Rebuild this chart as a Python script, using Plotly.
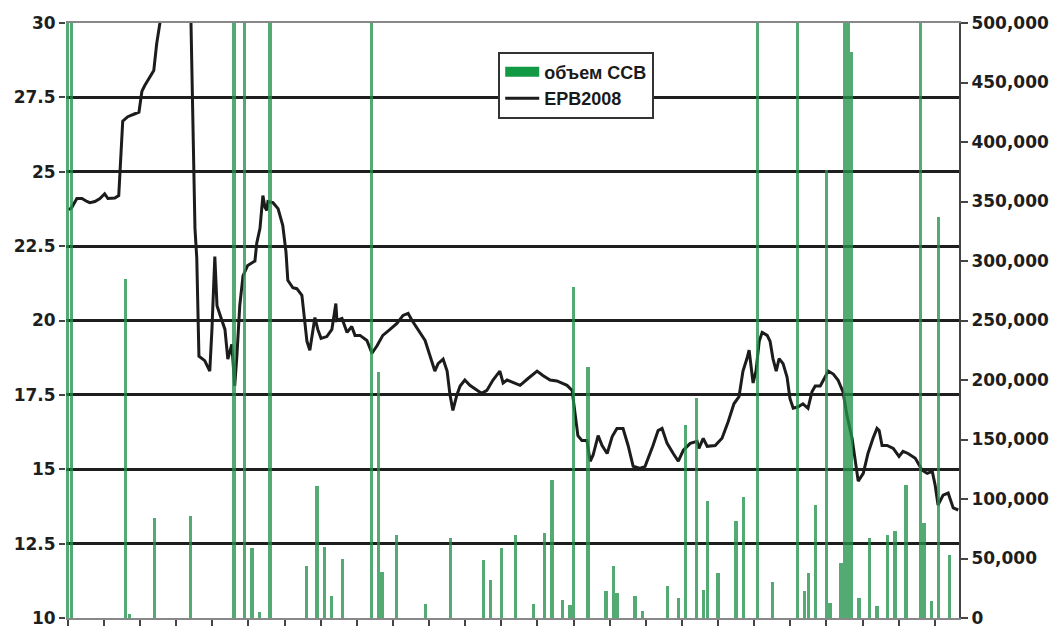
import plotly.graph_objects as go

# ---- data ----
line_days = [0.3, 1.1, 2.5, 3.9, 5.3, 6.1, 7.5, 8.9, 10.2, 11.1, 13.0, 14.1, 15.2, 16.6, 18.6, 19.7,
             20.5, 21.3, 23.3, 23.8, 24.6, 25.5, 26.9, 29.6, 32.4, 34.1, 35.2, 35.7, 36.3, 37.9, 39.3,
             39.9, 40.7, 41.3, 42.1, 43.5, 44.3, 45.4, 46.2, 46.8, 47.6, 48.5, 49.8, 51.8, 52.3, 53.2,
             54.0, 54.6, 55.1, 55.4, 56.8, 58.2, 59.5, 60.4, 60.9, 62.3, 63.4, 64.8, 66.2, 67.0, 68.4,
             69.2, 70.1, 71.7, 73.1, 74.2, 74.5, 75.9, 77.3, 78.6, 79.5, 80.9, 82.8, 84.2, 85.6, 87.2,
             89.2, 91.1, 92.8, 94.2, 95.3, 97.5, 98.9, 100.3, 101.6, 102.5, 103.9, 105.0, 105.8, 106.6,
             107.7, 108.6, 109.9, 111.3, 113.3, 114.6, 116.0, 117.7, 119.6, 120.5, 121.6, 123.8, 125.2,
             127.4, 129.9, 131.5, 133.5, 135.4, 138.2, 139.6, 140.4, 141.2, 142.3, 143.7, 144.6, 145.4,
             146.8, 147.9, 149.3, 150.7, 152.0, 153.7, 155.1, 156.5, 158.4, 159.8, 162.0, 163.4, 164.5,
             165.9, 167.6, 169.0, 170.4, 172.3, 174.2, 174.7, 175.9, 177.0, 179.2, 181.1, 182.8, 184.4,
             185.8, 186.9, 188.0, 188.6, 189.7, 190.5, 191.4, 192.2, 193.6, 194.4, 195.2, 196.1, 196.9,
             198.0, 199.1, 199.9, 200.8, 202.2, 203.5, 204.9, 206.0, 206.9, 208.3, 209.1, 210.5, 211.9,
             213.2, 214.6, 215.7, 217.1, 217.9, 218.8, 220.2, 221.5, 222.9, 224.0, 224.6, 225.4, 226.8,
             228.5, 230.1, 231.2, 232.6, 234.6, 236.5, 237.9, 239.3, 240.1, 240.9, 242.3, 243.7, 245.1,
             246.5]
epb2008 = [23.72, 23.8, 24.1, 24.1, 24.0, 23.96, 24.0, 24.1, 24.26, 24.1, 24.12, 24.2, 26.7, 26.85, 26.95,
           27.0, 27.7, 27.9, 28.3, 28.4, 29.3, 30.0, 30.6, 31.2, 30.8, 30.0, 23.1, 22.1, 18.8, 18.65,
           18.3, 19.7, 22.15, 20.5, 20.2, 19.7, 18.7, 19.2, 17.8, 18.8, 20.5, 21.5, 21.85, 22.0, 22.6,
           23.1, 24.2, 23.8, 23.7, 24.0, 23.96, 23.76, 23.2, 22.3, 21.35, 21.1, 21.07, 20.85, 19.3, 19.0,
           20.1, 19.7, 19.4, 19.46, 19.7, 20.57, 20.0, 20.07, 19.6, 19.8, 19.5, 19.5, 19.33, 18.9, 19.15,
           19.5, 19.7, 19.9, 20.17, 20.24, 20.0, 19.6, 19.33, 18.8, 18.3, 18.55, 18.7, 18.3, 17.5, 16.98,
           17.5, 17.8, 18.0, 17.82, 17.65, 17.55, 17.65, 18.0, 18.3, 17.9, 18.0, 17.9, 17.82, 18.05, 18.3,
           18.15, 18.0, 17.97, 17.82, 17.65, 16.8, 16.13, 15.97, 15.97, 15.27, 15.47, 16.13, 15.8, 15.53,
           16.1, 16.37, 16.37, 15.8, 15.1, 15.03, 15.1, 15.8, 16.3, 16.37, 15.87, 15.53, 15.27, 15.64,
           15.87, 15.94, 15.7, 16.04, 15.77, 15.8, 16.04, 16.6, 17.2, 17.44, 18.3, 18.72, 19.0, 17.9,
           18.3, 19.3, 19.6, 19.5, 19.3, 18.72, 18.3, 18.72, 18.55, 18.1, 17.38, 17.05, 17.1, 17.2,
           17.05, 17.6, 17.8, 17.8, 18.0, 18.3, 18.2, 18.0, 17.6, 16.8, 16.04, 15.27, 14.6, 14.86, 15.53,
           16.04, 16.37, 16.3, 15.8, 15.8, 15.7, 15.43, 15.6, 15.53, 15.37, 14.97, 14.86, 14.93, 14.46,
           13.8, 14.13, 14.2, 13.7, 13.63]

bar_days = [0, 1, 16, 17, 24, 34, 46, 49, 51, 53, 56, 66, 69, 71, 73, 76, 84, 86, 87, 91, 99, 106, 115,
            117, 120, 124, 129, 132, 134, 137, 139, 140, 144, 149, 151, 152, 157, 159, 166, 169, 171,
            174, 176, 177, 180, 185, 187, 191, 195, 202, 204, 205, 207, 210, 211, 214, 215, 216, 217,
            219, 222, 224, 227, 229, 232, 236, 237, 239, 241, 244]
ccb_volume = [520000, 520000, 285000, 3000, 84000, 85600, 520000, 520000, 58700, 5000, 520000, 43600,
              110700, 60000, 18500, 50000, 520000, 207000, 39000, 69600, 11700, 67000, 48700, 31900,
              58700, 69600, 11700, 71300, 115800, 15000, 11000, 278000, 211000, 22600, 43600, 21000,
              18500, 5900, 26800, 16800, 162000, 184600, 23500, 98000, 37700, 81400, 102000, 520000,
              30200, 520000, 22600, 37700, 94800, 376700, 12600, 46000, 520000, 520000, 476000, 16800,
              67000, 10000, 69600, 73000, 111600, 520000, 79700, 14000, 337000, 52900]

left_ticks = [10, 12.5, 15, 17.5, 20, 22.5, 25, 27.5, 30]
left_labels = ["10", "12.5", "15", "17.5", "20", "22.5", "25", "27.5", "30"]
right_ticks = [0, 50000, 100000, 150000, 200000, 250000, 300000, 350000, 400000, 450000, 500000]
x_ticks = list(range(0, 250, 10))

GREEN = "#23924a"
TICKFONT = dict(family="DejaVu Sans", size=17, color="#1e1e1e", weight="bold")

fig = go.Figure()
fig.add_trace(go.Bar(x=bar_days, y=ccb_volume, yaxis="y2", width=0.9,
                     marker=dict(color=GREEN, opacity=0.78, line=dict(width=0)),
                     name="<b>объем ССВ</b>", showlegend=False))
fig.add_trace(go.Scatter(x=[None], y=[None], yaxis="y2", mode="lines",
                         line=dict(color="#119944", width=10), name="<b>объем ССВ</b>",
                         legendrank=1))
fig.add_trace(go.Scatter(x=line_days, y=epb2008, mode="lines", yaxis="y",
                         line=dict(color="#1c1c1c", width=3), name="<b>EPB2008</b>",
                         legendrank=2))

fig.update_layout(
    width=1055, height=627,
    margin=dict(l=66, r=96, t=23, b=9, autoexpand=False),
    paper_bgcolor="white", plot_bgcolor="white",
    font=dict(family="DejaVu Sans", size=17, color="#1e1e1e"),
    bargap=0,
    xaxis=dict(range=[-0.5, 246.7], tickmode="array", tickvals=x_ticks, showticklabels=False,
               ticks="outside", ticklen=6, tickcolor="#444", tickwidth=1.5,
               showgrid=False, zeroline=False, showline=True, mirror=True,
               linecolor="#888", linewidth=1.5),
    yaxis=dict(range=[10, 30], tickmode="array", tickvals=left_ticks, ticktext=left_labels,
               ticks="outside", ticklen=6, tickcolor="#444", tickwidth=1.5,
               showgrid=True, gridcolor="#1e1e1e", gridwidth=3, zeroline=False, showline=False,
               ticklabeloverflow="allow", tickfont=TICKFONT),
    yaxis2=dict(range=[0, 500000], overlaying="y", side="right", tickmode="array",
                tickvals=right_ticks, tickformat=",d", ticks="outside", ticklen=7,
                tickcolor="#444", tickwidth=1.5, showgrid=False, zeroline=False,
                showline=True, linecolor="#444", linewidth=2,
                ticklabeloverflow="allow", tickfont=TICKFONT),
    legend=dict(x=0.484, y=0.952, xanchor="left", yanchor="top", bgcolor="white",
                bordercolor="#333", borderwidth=2, itemwidth=34,
                font=dict(family="Liberation Sans", size=18, color="#1a1a1a")),
)

fig.write_html("out.html", config={"displayModeBar": False},
               post_script="document.body.style.margin='0';document.body.style.overflow='hidden';")
